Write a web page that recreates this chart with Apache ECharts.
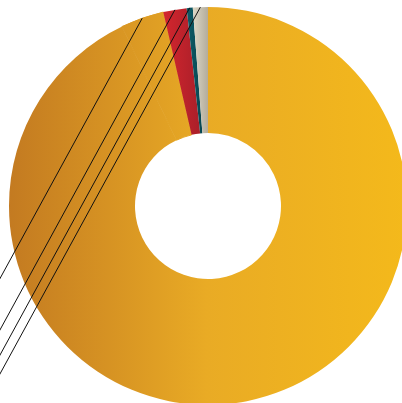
<!DOCTYPE html>
<html>
<head>
<meta charset="utf-8">
<script src="https://cdn.jsdelivr.net/npm/echarts@6/dist/echarts.min.js"></script>
<style>html,body{margin:0;padding:0;background:#fff}#c{width:402px;height:403px}</style>
</head>
<body>
<div id="c"></div>
<script>
// Slices, clockwise from 12 o'clock
const categories = ['Gold B', 'Gold A', 'Red', 'Teal', 'Gray'];
const values = [92.89, 3.5, 1.9, 0.49, 1.22];
const labeled = [false, true, true, true, true];

const goldGrad = {
  type: 'linear', global: true, x: 8, y: 0, x2: 406, y2: 0,
  colorStops: [
    { offset: 0, color: '#c37a21' },
    { offset: 0.5, color: '#e9ab25' },
    { offset: 1, color: '#f4b91b' }
  ]
};
const lin = (a, b) => ({ type: 'linear', x: 0, y: 0, x2: 1, y2: 0,
  colorStops: [{ offset: 0, color: a }, { offset: 1, color: b }] });
const fills = [
  goldGrad,
  goldGrad,
  lin('#d3262e', '#aa1f29'),
  lin('#0d5c68', '#074650'),
  lin('#ddd8c6', '#b3ac9c')
];

const common = {
  type: 'pie',
  clockwise: true,
  startAngle: 90,
  center: [208, 206],
  radius: [73, 199],
  avoidLabelOverlap: false,
  silent: true,
  emphasis: { disabled: true }
};

const chart = echarts.init(document.getElementById('c'), null, { renderer: 'canvas' });
chart.setOption({
  animation: false,
  series: [
    Object.assign({}, common, {
      z: 2,
      data: categories.map((n, i) => ({
        name: n,
        value: values[i],
        itemStyle: i === 1
          ? { color: fills[i], borderColor: goldGrad, borderWidth: 1 }
          : { color: fills[i], borderWidth: 0 }
      })),
      label: { show: false },
      labelLine: { show: false }
    }),
    Object.assign({}, common, {
      z: 5,
      data: categories.map((n, i) => ({
        name: n,
        value: values[i],
        itemStyle: { color: 'rgba(0,0,0,0)', borderWidth: 0 },
        label: { show: labeled[i] },
        labelLine: { show: labeled[i] }
      })),
      label: { position: 'outside', color: '#222', fontFamily: 'Noto Sans', fontSize: 12 },
      labelLine: { show: true, length: 10, length2: 10, lineStyle: { color: '#111', width: 1 } },
      labelLayout: function (p) {
        if (!p.labelLinePoints) return {};
        const s = p.labelLinePoints[0];
        const t = 420;
        const e = [s[0] - t, s[1] + t * 1.83];
        return { x: e[0], y: e[1], labelLinePoints: [[s[0], s[1]], e] };
      }
    })
  ]
});
</script>
</body>
</html>
